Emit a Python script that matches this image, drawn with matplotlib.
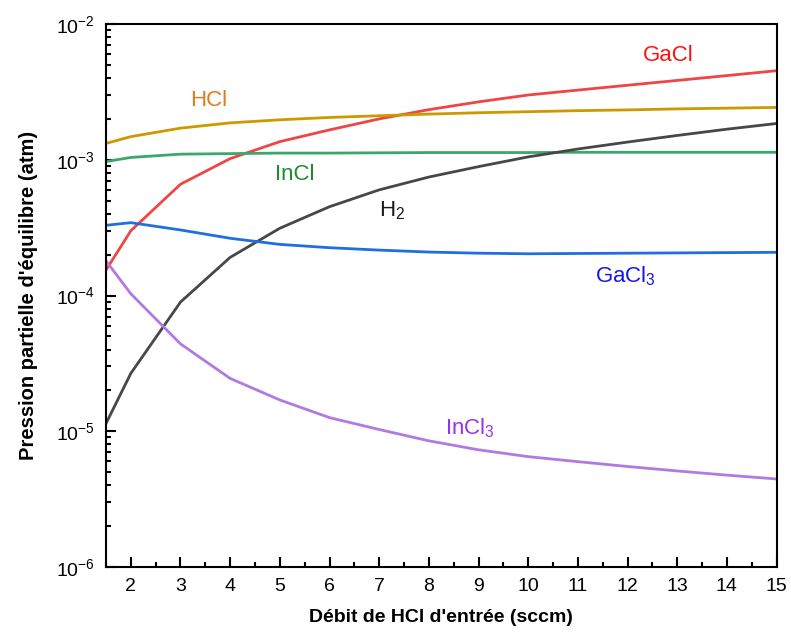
"""
Pressions partielles d'équilibre en fonction du débit de HCl d'entrée.
"""

import matplotlib
matplotlib.use('Agg')
import matplotlib.pyplot as plt
from matplotlib.ticker import FixedLocator, MultipleLocator, LogLocator, NullFormatter

# --- Données (atm) ---
debit_hcl = [1.5, 2, 3, 4, 5, 6, 7, 8, 9, 10, 11, 12, 13, 14, 15]

p_gacl = [1.54e-4, 3.0e-4, 6.6e-4, 1.02e-3, 1.36e-3, 1.66e-3, 2.0e-3, 2.34e-3,
          2.67e-3, 3.0e-3, 3.26e-3, 3.54e-3, 3.84e-3, 4.17e-3, 4.53e-3]
p_hcl = [1.32e-3, 1.48e-3, 1.71e-3, 1.87e-3, 1.97e-3, 2.05e-3, 2.11e-3, 2.17e-3,
         2.22e-3, 2.26e-3, 2.30e-3, 2.33e-3, 2.37e-3, 2.40e-3, 2.43e-3]
p_incl = [9.7e-4, 1.04e-3, 1.10e-3, 1.11e-3, 1.12e-3, 1.12e-3, 1.125e-3, 1.13e-3,
          1.13e-3, 1.13e-3, 1.135e-3, 1.135e-3, 1.135e-3, 1.135e-3, 1.135e-3]
p_h2 = [1.14e-5, 2.67e-5, 8.95e-5, 1.91e-4, 3.13e-4, 4.51e-4, 6.0e-4, 7.46e-4,
        8.9e-4, 1.05e-3, 1.20e-3, 1.35e-3, 1.51e-3, 1.68e-3, 1.85e-3]
p_gacl3 = [3.29e-4, 3.44e-4, 3.04e-4, 2.64e-4, 2.38e-4, 2.25e-4, 2.16e-4, 2.09e-4,
           2.05e-4, 2.03e-4, 2.04e-4, 2.05e-4, 2.06e-4, 2.07e-4, 2.08e-4]
p_incl3 = [1.8e-4, 1.03e-4, 4.4e-5, 2.45e-5, 1.70e-5, 1.26e-5, 1.03e-5, 8.5e-6,
           7.3e-6, 6.5e-6, 5.97e-6, 5.5e-6, 5.1e-6, 4.75e-6, 4.45e-6]

y_ticks = [1e-6, 1e-5, 1e-4, 1e-3, 1e-2]
y_ticklabels = ['10$^{-6}$', '10$^{-5}$', '10$^{-4}$', '10$^{-3}$', '10$^{-2}$']

plt.rcParams['font.family'] = ['Liberation Sans', 'DejaVu Sans']
plt.rcParams['mathtext.fontset'] = 'custom'
plt.rcParams['mathtext.rm'] = 'Liberation Sans'
plt.rcParams['mathtext.it'] = 'Liberation Sans:italic'
plt.rcParams['mathtext.bf'] = 'Liberation Sans:bold'

fig = plt.figure(figsize=(7.91, 6.39), dpi=100)
ax = fig.add_axes([0.134, 0.1127, 0.8477, 0.8497])

lw = 2.0
ax.plot(debit_hcl, p_gacl, color='#F04545', lw=lw)
ax.plot(debit_hcl, p_hcl, color='#CC9A00', lw=lw)
ax.plot(debit_hcl, p_incl, color='#3AA86A', lw=lw)
ax.plot(debit_hcl, p_h2, color='#474747', lw=lw)
ax.plot(debit_hcl, p_gacl3, color='#1F6FE0', lw=lw)
ax.plot(debit_hcl, p_incl3, color='#B07AE0', lw=lw)

# Étiquettes des espèces
lbl = dict(fontsize=16, ha='center', va='center')
ax.text(12.82, 5.9e-3, 'GaCl', color='#FF1010', **lbl)
ax.text(3.57, 2.73e-3, 'HCl', color='#E07A1A', **lbl)
ax.text(5.31, 7.85e-4, 'InCl', color='#1E8C2A', **lbl)
ax.text(7.26, 4.2e-4, 'H$_2$', color='#1A1A1A', **lbl)
ax.text(11.96, 1.38e-4, 'GaCl$_3$', color='#1515E8', **lbl)
ax.text(8.83, 1.06e-5, 'InCl$_3$', color='#9B30F0', **lbl)

ax.set_yscale('log')
ax.set_xlim(1.5, 15)
ax.set_ylim(1e-6, 1e-2)

ax.xaxis.set_major_locator(MultipleLocator(1))
ax.xaxis.set_minor_locator(MultipleLocator(0.5))
ax.yaxis.set_major_locator(FixedLocator(y_ticks))
ax.set_yticklabels(y_ticklabels)
ax.yaxis.set_minor_locator(LogLocator(base=10, subs=range(2, 10)))
ax.yaxis.set_minor_formatter(NullFormatter())

ax.tick_params(which='both', direction='in', top=False, right=False, labelsize=14,
               width=1.5)
ax.tick_params(which='major', length=7)
ax.tick_params(which='minor', length=3.5)
ax.tick_params(axis='y', pad=8)
ax.tick_params(axis='x', pad=8)
for s in ax.spines.values():
    s.set_linewidth(1.5)

ax.set_xlabel("Débit de HCl d'entrée (sccm)", fontsize=14, fontweight='bold', labelpad=10)
ax.set_ylabel("Pression partielle d'équilibre (atm)", fontsize=14.5, fontweight='bold',
              labelpad=13)

fig.savefig('out.png', dpi=100)
